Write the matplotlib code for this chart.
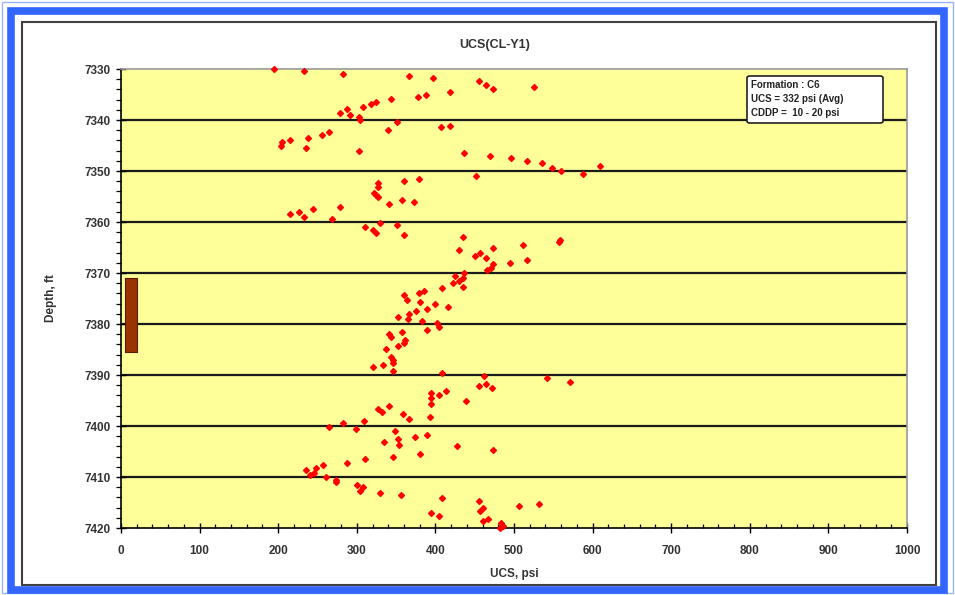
import numpy as np
import matplotlib
matplotlib.use("Agg")
import matplotlib.pyplot as plt
from matplotlib.patches import Rectangle, FancyBboxPatch
from matplotlib.ticker import MultipleLocator

# UCS (psi) et profondeur (ft)
ucs = [195, 233, 282, 366, 397, 455, 464, 473, 525, 418, 388, 378, 343, 324,
       318, 308, 288, 278, 291, 303, 304, 351, 340, 407, 418, 264, 256, 238,
       215, 205, 204, 235, 303, 437, 469, 496, 517, 535, 548, 560, 588, 609,
       452, 360, 379, 327, 327, 322, 325, 327, 357, 373, 341, 278, 244, 227,
       215, 233, 268, 311, 320, 324, 330, 351, 360, 435, 430, 450, 457, 465,
       466, 473, 473, 471, 495, 517, 511, 559, 557, 437, 425, 435, 430, 422,
       435, 409, 385, 379, 360, 364, 380, 400, 416, 389, 375, 366, 352, 365,
       383, 402, 405, 389, 358, 341, 343, 361, 360, 352, 337, 344, 346, 346,
       333, 346, 408, 462, 542, 321, 571, 455, 464, 472, 394, 394, 394, 405,
       413, 439, 341, 327, 332, 359, 366, 393, 309, 283, 264, 299, 348, 352,
       354, 335, 374, 389, 428, 473, 346, 381, 310, 287, 257, 248, 235, 245,
       241, 261, 274, 273, 300, 308, 304, 330, 356, 409, 455, 460, 457, 395,
       405, 467, 461, 483, 486, 506, 532, 482]
depth = [7330.0, 7330.4, 7330.9, 7331.4, 7331.8, 7332.4, 7333.1, 7334.0,
         7333.5, 7334.5, 7335.0, 7335.4, 7335.9, 7336.4, 7336.9, 7337.5,
         7337.9, 7338.6, 7339.0, 7339.5, 7340.0, 7340.4, 7342.0, 7341.4,
         7341.1, 7342.3, 7342.9, 7343.6, 7344.0, 7344.4, 7345.1, 7345.5,
         7346.0, 7346.4, 7347.0, 7347.4, 7348.0, 7348.5, 7349.5, 7350.0,
         7350.5, 7349.1, 7351.0, 7351.9, 7351.5, 7352.4, 7353.1, 7354.3,
         7354.7, 7355.0, 7355.6, 7356.0, 7356.5, 7357.0, 7357.5, 7358.0,
         7358.4, 7359.0, 7359.5, 7361.0, 7361.6, 7362.2, 7360.1, 7360.5,
         7362.5, 7362.9, 7365.5, 7366.6, 7366.0, 7367.0, 7369.5, 7365.1,
         7368.3, 7369.0, 7368.0, 7367.5, 7364.6, 7363.5, 7364.0, 7370.0,
         7370.5, 7371.0, 7371.6, 7372.0, 7372.7, 7373.0, 7373.5, 7374.0,
         7374.4, 7375.2, 7375.6, 7376.1, 7376.6, 7377.0, 7377.5, 7378.0,
         7378.6, 7379.0, 7379.4, 7379.9, 7380.5, 7381.2, 7381.6, 7382.0,
         7382.5, 7383.1, 7383.7, 7384.4, 7384.9, 7386.4, 7387.1, 7387.7,
         7388.1, 7389.2, 7389.6, 7390.1, 7390.5, 7388.5, 7391.3, 7392.2,
         7391.7, 7392.6, 7393.6, 7394.6, 7395.6, 7394.0, 7393.1, 7395.0,
         7396.0, 7396.7, 7397.3, 7397.6, 7398.6, 7398.2, 7399.0, 7399.5,
         7400.1, 7400.6, 7401.0, 7402.6, 7403.7, 7403.1, 7402.2, 7401.7,
         7404.0, 7404.7, 7406.0, 7405.5, 7406.5, 7407.2, 7407.6, 7408.2,
         7408.6, 7409.3, 7409.7, 7410.0, 7410.6, 7411.0, 7411.6, 7412.0,
         7412.7, 7413.2, 7413.6, 7414.1, 7414.7, 7416.1, 7416.7, 7417.0,
         7417.6, 7418.2, 7418.7, 7419.1, 7419.7, 7415.6, 7415.2, 7420.0]

# zone marquee (barre brune)
zone_depth = [7371.0, 7385.5]
zone_ucs = [5, 20]

x_ticks = [0, 100, 200, 300, 400, 500, 600, 700, 800, 900, 1000]
y_ticks = [7330, 7340, 7350, 7360, 7370, 7380, 7390, 7400, 7410, 7420]
info = ["Formation : C6", "UCS = 332 psi (Avg)", "CDDP =  10 - 20 psi"]

plt.rc('font', family=['Liberation Sans', 'DejaVu Sans'], size=8.5, weight='bold')
plt.rc('axes', labelweight='bold')
txt = '#333333'

fig = plt.figure(figsize=(9.55, 5.95), dpi=100)

# cadre bleu et bordure du graphique
W, H = 955., 595.
def fr(x0, y0, x1, y1):
    return (x0 / W, 1 - y1 / H), (x1 - x0) / W, (y1 - y0) / H
xy, w, h = fr(2, 2, 953, 593)
fig.patches.append(Rectangle(xy, w, h, transform=fig.transFigure, fill=False,
                             ec='#99b3ff', lw=1.0))
xy, w, h = fr(11, 11, 944, 590)
fig.patches.append(Rectangle(xy, w, h, transform=fig.transFigure, fill=False,
                             ec='#3366ff', lw=5.5))
xy, w, h = fr(22, 22, 936, 585)
fig.patches.append(Rectangle(xy, w, h, transform=fig.transFigure, fill=False,
                             ec='#404040', lw=1.5))

ax = fig.add_axes([121 / W, 1 - 528 / H, (907 - 121) / W, (528 - 69) / H])
ax.set_facecolor('#ffff99')
ax.set_xlim(0, 1000)
ax.set_ylim(7420, 7330)

for yy in y_ticks[1:-1]:
    ax.axhline(yy, color='#1a1a1a', lw=1.6, zorder=1)

ax.fill_betweenx(zone_depth, zone_ucs[0], zone_ucs[1], color='#993300',
                 ec='#5a1a00', lw=0.8, zorder=2)

ax.plot(ucs, depth, ls='none', marker='D', ms=3.0, color='#ff0000',
        mec='#ff0000', zorder=3, clip_on=False)

ax.set_xticks(x_ticks)
ax.set_yticks(y_ticks)
ax.xaxis.set_minor_locator(MultipleLocator(20))
ax.yaxis.set_minor_locator(MultipleLocator(2))
ax.tick_params(which='major', direction='inout', length=7, width=1.0,
               colors='black', labelcolor=txt, labelsize=8.5)
ax.tick_params(axis='x', which='major', pad=9)
ax.tick_params(axis='y', which='major', pad=4)
ax.tick_params(axis='x', which='minor', direction='in', length=3, width=0.9)
ax.tick_params(axis='y', which='minor', direction='out', length=3.5, width=0.9)

for s in ['top', 'right']:
    ax.spines[s].set_color('#999999')
    ax.spines[s].set_linewidth(1.2)
for s in ['left', 'bottom']:
    ax.spines[s].set_color('black')
    ax.spines[s].set_linewidth(1.2)

ax.set_xlabel("UCS, psi", color=txt, labelpad=8)
ax.set_ylabel("Depth, ft", color=txt, labelpad=20)
fig.text(495 / W, 1 - 45 / H, "UCS(CL-Y1)", ha='center', va='center', color=txt,
         fontsize=9)

# boite d'information
xy, w, h = fr(747, 76, 883, 123)
fig.patches.append(FancyBboxPatch(xy, w, h, boxstyle='round,pad=0,rounding_size=0.003',
                                  transform=fig.transFigure, fc='white',
                                  ec='#222222', lw=1.2, zorder=5))
for i, t in enumerate(info):
    fig.text(751 / W, 1 - (85 + 14 * i) / H, t, ha='left', va='center',
             fontsize=7, color='#222222', zorder=6)

plt.savefig("out.png", dpi=100)
